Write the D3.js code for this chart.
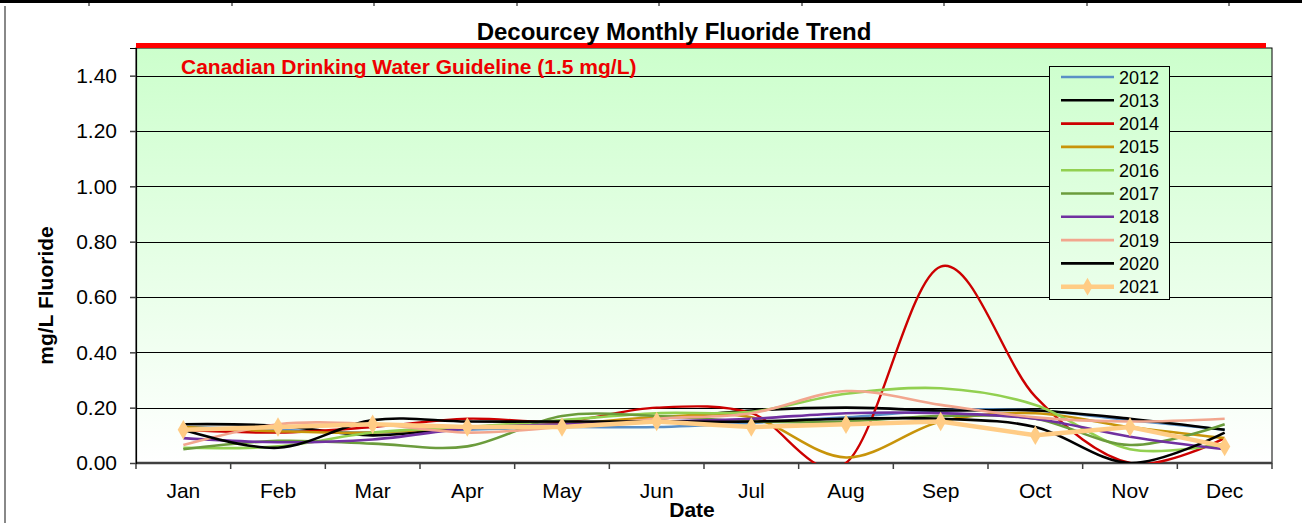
<!DOCTYPE html>
<html>
<head>
<meta charset="utf-8">
<script src="https://cdn.jsdelivr.net/npm/d3@7"></script>
<style>
  body { margin: 0; background: #fff; }
  svg { display: block; font-family: "Liberation Sans", Arial, sans-serif; }
</style>
</head>
<body>
<svg id="chart" width="1302" height="523"></svg>
<script>
const months = ["Jan", "Feb", "Mar", "Apr", "May", "Jun", "Jul", "Aug", "Sep", "Oct", "Nov", "Dec"];
const yTicks = [0, 0.2, 0.4, 0.6, 0.8, 1.0, 1.2, 1.4];
const guideline = 1.5;

const v2012 = [0.13, 0.12, 0.11, 0.12, 0.13, 0.13, 0.145, 0.165, 0.19, 0.19, 0.155, 0.12];
const v2013 = [0.14, 0.135, 0.10, 0.13, 0.14, 0.16, 0.19, 0.20, 0.19, 0.19, 0.16, 0.12];
const v2014 = [0.12, 0.11, 0.13, 0.16, 0.15, 0.20, 0.18, 0.00, 0.71, 0.24, 0.00, 0.09];
const v2015 = [0.13, 0.115, 0.11, 0.13, 0.14, 0.165, 0.165, 0.02, 0.15, 0.18, 0.13, 0.09];
const v2016 = [0.055, 0.06, 0.11, 0.13, 0.155, 0.18, 0.185, 0.25, 0.27, 0.21, 0.05, 0.07];
const v2017 = [0.05, 0.08, 0.07, 0.06, 0.17, 0.17, 0.15, 0.15, 0.17, 0.16, 0.065, 0.14];
const v2018 = [0.09, 0.075, 0.085, 0.125, 0.14, 0.15, 0.16, 0.18, 0.18, 0.16, 0.095, 0.05];
const v2019 = [0.065, 0.14, 0.14, 0.11, 0.13, 0.16, 0.18, 0.26, 0.21, 0.165, 0.15, 0.16];
const v2020 = [0.12, 0.055, 0.155, 0.15, 0.15, 0.15, 0.15, 0.16, 0.16, 0.13, 0.00, 0.11];
const v2021 = [0.12, 0.13, 0.14, 0.13, 0.13, 0.15, 0.13, 0.14, 0.15, 0.10, 0.13, 0.06];

const series = [
  { name: "2012", values: v2012, color: "#5a8fc6", width: 2.6 },
  { name: "2013", values: v2013, color: "#000000", width: 2.6 },
  { name: "2014", values: v2014, color: "#cc0000", width: 2.4 },
  { name: "2015", values: v2015, color: "#c8940a", width: 2.6 },
  { name: "2016", values: v2016, color: "#92d050", width: 2.6 },
  { name: "2017", values: v2017, color: "#6b9c3c", width: 2.6 },
  { name: "2018", values: v2018, color: "#7030a0", width: 2.6 },
  { name: "2019", values: v2019, color: "#f2a68e", width: 2.6 },
  { name: "2020", values: v2020, color: "#000000", width: 2.6 },
  { name: "2021", values: v2021, color: "#ffcc85", width: 4.5, marker: true }
];

const svg = d3.select("#chart");
const margin = { top: 48, right: 30, bottom: 60, left: 136 };
const width = 1302, height = 523;

const x = d3.scaleBand().domain(months).range([margin.left, width - margin.right]);
const y = d3.scaleLinear().domain([0, 1.5]).range([height - margin.bottom, margin.top]);
const cx = m => x(m) + x.bandwidth() / 2;

const defs = svg.append("defs");
const grad = defs.append("linearGradient")
  .attr("id", "bg").attr("gradientUnits", "userSpaceOnUse")
  .attr("x1", 0).attr("x2", 0).attr("y1", y(1.5)).attr("y2", y(0));
grad.append("stop").attr("offset", "0%").attr("stop-color", "#ccffcc");
grad.append("stop").attr("offset", "100%").attr("stop-color", "#ffffff");
defs.append("clipPath").attr("id", "plotclip").append("rect")
  .attr("x", margin.left).attr("y", y(1.5))
  .attr("width", width - margin.right - margin.left).attr("height", y(0) - y(1.5));

// sheet borders behind the chart
svg.append("line").attr("x1", 0).attr("x2", width).attr("y1", 1.5).attr("y2", 1.5)
  .attr("stroke", "#000").attr("stroke-width", 3);
[89, 232, 374, 517, 659, 802, 944, 1087, 1229].forEach(px => {
  svg.append("line").attr("x1", px).attr("x2", px).attr("y1", 0).attr("y2", 6)
    .attr("stroke", "#000").attr("stroke-width", 1);
});
svg.append("line").attr("x1", 5).attr("x2", 5).attr("y1", 6).attr("y2", height)
  .attr("stroke", "#888").attr("stroke-width", 2);

// plot area
svg.append("rect")
  .attr("x", margin.left).attr("y", y(1.5))
  .attr("width", width - margin.right - margin.left).attr("height", y(0) - y(1.5))
  .attr("fill", "url(#bg)").attr("stroke", "#000").attr("stroke-width", 1);

svg.append("g").selectAll("line").data(yTicks.filter(d => d > 0)).join("line")
  .attr("x1", margin.left).attr("x2", width - margin.right)
  .attr("y1", d => Math.round(y(d)) + 0.5).attr("y2", d => Math.round(y(d)) + 0.5)
  .attr("stroke", "#000").attr("stroke-width", 1);

// guideline
svg.append("line")
  .attr("x1", margin.left).attr("x2", width - margin.right - 6)
  .attr("y1", y(guideline) - 2.5).attr("y2", y(guideline) - 2.5)
  .attr("stroke", "#ff0000").attr("stroke-width", 5);

svg.append("text")
  .attr("x", 181).attr("y", y(1.4) - 2)
  .attr("fill", "#ee0000").attr("font-weight", "bold").attr("font-size", 21)
  .text("Canadian Drinking Water Guideline (1.5 mg/L)");

// axes
const xAxis = svg.append("g")
  .attr("transform", `translate(0,${y(0)})`);
xAxis.append("line").attr("x1", margin.left).attr("x2", width - margin.right)
  .attr("stroke", "#404040").attr("stroke-width", 2.5);
xAxis.selectAll(".tk").data(months.concat(["end"])).join("line")
  .attr("x1", (d, i) => margin.left + i * x.bandwidth())
  .attr("x2", (d, i) => margin.left + i * x.bandwidth())
  .attr("y1", 0).attr("y2", 6).attr("stroke", "#404040").attr("stroke-width", 1.5);
xAxis.selectAll("text").data(months).join("text")
  .attr("x", d => cx(d)).attr("y", 35)
  .attr("text-anchor", "middle").attr("font-size", 21).text(d => d);

const yAxis = svg.append("g")
  .attr("transform", `translate(${margin.left},0)`)
  .call(d3.axisLeft(y).tickValues(yTicks).tickFormat(d3.format(".2f")).tickSize(6).tickPadding(13));
yAxis.select(".domain").attr("stroke", "#000").attr("stroke-width", 1.2);
yAxis.selectAll(".tick line").attr("stroke", "#404040").attr("stroke-width", 1.5);
yAxis.selectAll(".tick text").attr("font-size", 21).attr("fill", "#000")
  .attr("font-family", "Liberation Sans, Arial, sans-serif");

// series
const smooth = d3.line().x((d, i) => cx(months[i])).y(d => y(d)).curve(d3.curveCatmullRom.alpha(0));
const straight = d3.line().x((d, i) => cx(months[i])).y(d => y(d));
const plot = svg.append("g").attr("clip-path", "url(#plotclip)");
series.forEach(s => {
  plot.append("path").datum(s.values)
    .attr("fill", "none").attr("stroke", s.color).attr("stroke-width", s.width)
    .attr("stroke-linejoin", "round")
    .attr("d", s.marker ? straight : smooth);
  if (s.marker) {
    plot.selectAll(".mk").data(s.values).join("path")
      .attr("transform", (d, i) => `translate(${cx(months[i])},${y(d)})`)
      .attr("d", d3.symbol(d3.symbolDiamond, 110)())
      .attr("fill", s.color);
  }
});

// legend
const lg = svg.append("g");
lg.append("rect").attr("x", 1049.5).attr("y", 66.5).attr("width", 120).attr("height", 233)
  .attr("fill", "url(#bg)").attr("stroke", "#000").attr("stroke-width", 1);
series.forEach((s, i) => {
  const ly = 77 + i * 23.3;
  lg.append("line").attr("x1", 1061).attr("x2", 1114).attr("y1", ly).attr("y2", ly)
    .attr("stroke", s.color).attr("stroke-width", s.marker ? 4.5 : 2.6);
  if (s.marker) {
    lg.append("path").attr("transform", `translate(1087.5,${ly})`)
      .attr("d", d3.symbol(d3.symbolDiamond, 90)()).attr("fill", s.color);
  }
  lg.append("text").attr("x", 1119).attr("y", ly + 6.5).attr("font-size", 18).text(s.name);
});

// titles
svg.append("text").attr("x", 674).attr("y", 40).attr("text-anchor", "middle")
  .attr("font-weight", "bold").attr("font-size", 24).text("Decourcey Monthly Fluoride Trend");
svg.append("text").attr("x", 692).attr("y", 517).attr("text-anchor", "middle")
  .attr("font-weight", "bold").attr("font-size", 21).text("Date");
svg.append("text").attr("transform", `translate(53,${(y(0) + y(1.5)) / 2 + 40}) rotate(-90)`)
  .attr("text-anchor", "middle").attr("font-weight", "bold").attr("font-size", 21)
  .text("mg/L Fluoride");
</script>
</body>
</html>
